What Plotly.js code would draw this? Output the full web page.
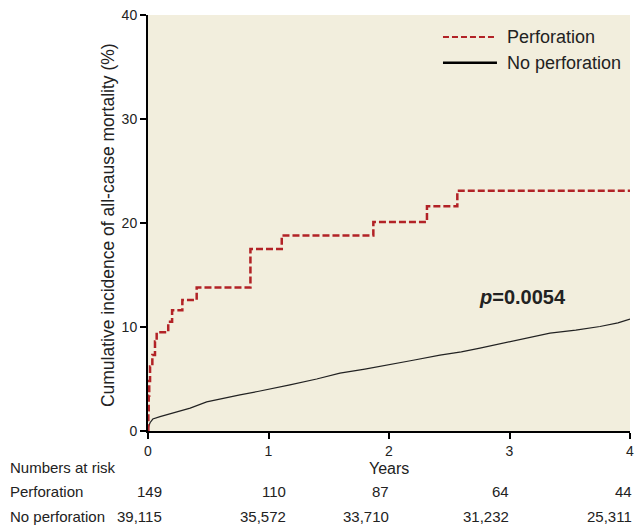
<!DOCTYPE html>
<html>
<head>
<meta charset="utf-8">
<script src="https://cdn.plot.ly/plotly-3.0.1.min.js"></script>
<style>
html,body{margin:0;padding:0;background:#fff;}
#chart{width:638px;height:526px;}
</style>
</head>
<body>
<div id="chart"></div>
<script>
// Perforation cumulative incidence (step function)
var perfYears = [0, 0.003, 0.006, 0.010, 0.017, 0.036, 0.058, 0.072, 0.168, 0.200, 0.285, 0.404, 0.850, 1.110, 1.870, 2.315, 2.567, 4.0];
var perfValues = [0, 2.0, 3.4, 4.8, 6.2, 7.3, 8.6, 9.5, 10.5, 11.6, 12.6, 13.8, 17.5, 18.8, 20.1, 21.6, 23.1, 23.1];
// No perforation cumulative incidence
var noPerfYears = [0, 0.005, 0.017, 0.04, 0.10, 0.20, 0.35, 0.487, 0.60, 0.763, 0.91, 1.05, 1.178, 1.40, 1.593, 1.80, 2.008, 2.20, 2.423, 2.60, 2.755, 3.004, 3.17, 3.336, 3.55, 3.751, 3.90, 4.0];
var noPerfValues = [0, 0.4, 0.8, 1.15, 1.38, 1.7, 2.2, 2.8, 3.1, 3.47, 3.8, 4.1, 4.43, 5.0, 5.56, 5.95, 6.36, 6.8, 7.3, 7.6, 7.97, 8.6, 9.0, 9.41, 9.7, 10.05, 10.4, 10.76];
// Numbers at risk
var riskTimes = [0, 1, 2, 3, 4];
var riskPerf = ["149", "110", "87", "64", "44"];
var riskNoPerf = ["39,115", "35,572", "33,710", "31,232", "25,311"];
var yTicks = [0, 10, 20, 30, 40];
var xTicks = [0, 1, 2, 3, 4];
var seriesNames = ["Perforation", "No perforation"];
var xTitle = 'Years';
var yTitle = 'Cumulative incidence of all-cause mortality (%)';

var narrow = 'Liberation Sans Narrow, Liberation Sans, Arial, sans-serif';
var regular = 'Liberation Sans, Arial, sans-serif';
var red = '#b22226';
var black = '#222222';

var traces = [
  {x: noPerfYears, y: noPerfValues, mode: 'lines', name: seriesNames[1],
   line: {color: black, width: 1.2, shape: 'linear'}, showlegend: false, hoverinfo: 'skip'},
  {x: perfYears, y: perfValues, mode: 'lines', name: seriesNames[0],
   line: {color: red, width: 2.5, shape: 'hv', dash: '7px,3px'}, showlegend: false, hoverinfo: 'skip'}
];

var xShifts = [16, 19, 2, 1, 4];
var rowY = [-0.087, -0.1445, -0.2045];
var labelX = -0.2905;
var tf = {family: narrow, size: 15, color: black};
var tickf = {family: narrow, size: 14, color: black};
var annotations = [];
annotations.push({xref: 'paper', yref: 'paper', x: labelX, y: rowY[0], xanchor: 'left', yanchor: 'middle',
  text: 'Numbers at risk', showarrow: false, font: tf});
annotations.push({xref: 'paper', yref: 'paper', x: labelX, y: rowY[1], xanchor: 'left', yanchor: 'middle',
  text: seriesNames[0], showarrow: false, font: tf});
annotations.push({xref: 'paper', yref: 'paper', x: labelX, y: rowY[2], xanchor: 'left', yanchor: 'middle',
  text: seriesNames[1], showarrow: false, font: tf});
for (var i = 0; i < riskTimes.length; i++) {
  annotations.push({xref: 'x', yref: 'paper', x: riskTimes[i], xshift: xShifts[i], y: rowY[1], xanchor: 'right', yanchor: 'middle',
    text: riskPerf[i], showarrow: false, font: tf});
  annotations.push({xref: 'x', yref: 'paper', x: riskTimes[i], xshift: xShifts[i], y: rowY[2], xanchor: 'right', yanchor: 'middle',
    text: riskNoPerf[i], showarrow: false, font: tf});
}
annotations.push({xref: 'x', yref: 'y', x: 3.11, y: 12.9, xanchor: 'center', yanchor: 'middle',
  text: '<b><i>p</i>=0.0054</b>', showarrow: false, font: {family: narrow, size: 20, color: black}});
// axis titles
annotations.push({xref: 'paper', yref: 'paper', x: 0.5, y: -0.089, xanchor: 'center', yanchor: 'middle',
  text: xTitle, showarrow: false, font: {family: regular, size: 16, color: black}});
annotations.push({xref: 'paper', yref: 'paper', x: -0.083, y: 0.495, xanchor: 'center', yanchor: 'middle', textangle: -90,
  text: yTitle, showarrow: false, font: {family: regular, size: 17.5, color: black}});
// legend text
annotations.push({xref: 'paper', yref: 'paper', x: 0.741, y: 0.947, xanchor: 'left', yanchor: 'middle',
  text: seriesNames[0], showarrow: false, font: {family: regular, size: 18, color: black}});
annotations.push({xref: 'paper', yref: 'paper', x: 0.741, y: 0.885, xanchor: 'left', yanchor: 'middle',
  text: seriesNames[1], showarrow: false, font: {family: regular, size: 18, color: black}});

var shapes = [
  {type: 'line', xref: 'paper', yref: 'paper', x0: 0.612, x1: 0.724, y0: 0.947, y1: 0.947,
   line: {color: red, width: 2, dash: '6px,3px'}},
  {type: 'line', xref: 'paper', yref: 'paper', x0: 0.612, x1: 0.724, y0: 0.885, y1: 0.885,
   line: {color: '#000', width: 2.5}}
];

var layout = {
  width: 638, height: 526,
  margin: {l: 148, r: 8, t: 15, b: 95},
  paper_bgcolor: '#ffffff',
  plot_bgcolor: '#f2eedd',
  showlegend: false,
  xaxis: {
    range: [0, 4], tickvals: xTicks, ticktext: xTicks.map(String),
    showgrid: false, zeroline: false, showline: true, linecolor: '#000', linewidth: 2,
    ticks: 'outside', ticklen: 6, tickwidth: 2, tickcolor: '#000',
    tickfont: tickf, fixedrange: true
  },
  yaxis: {
    range: [0, 40], tickvals: yTicks, ticktext: yTicks.map(String),
    showgrid: false, zeroline: false, showline: true, linecolor: '#000', linewidth: 2,
    ticks: 'outside', ticklen: 6, tickwidth: 2, tickcolor: '#000',
    tickfont: tickf, fixedrange: true
  },
  annotations: annotations,
  shapes: shapes
};

Plotly.newPlot('chart', traces, layout, {displayModeBar: false, staticPlot: true});
</script>
</body>
</html>
